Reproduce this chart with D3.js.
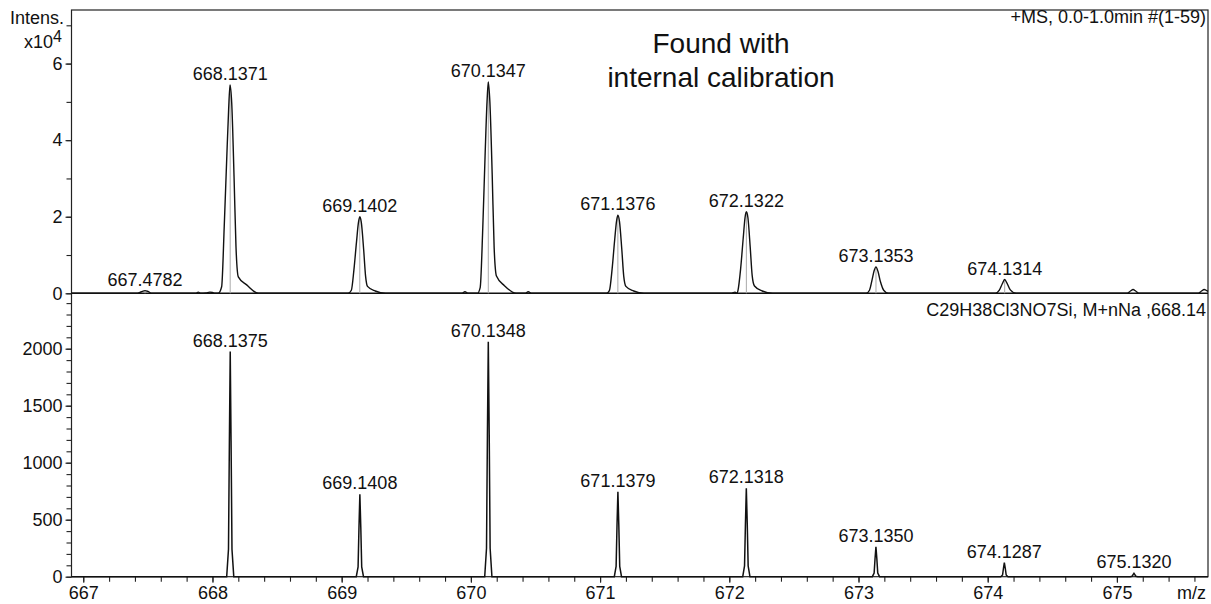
<!DOCTYPE html>
<html>
<head>
<meta charset="utf-8">
<script src="https://cdn.jsdelivr.net/npm/d3@7"></script>
<style>
  body { margin: 0; background: #fff; }
  text { font-family: "Liberation Sans", Arial, sans-serif; fill: #111; }
</style>
</head>
<body>
<div id="chart"></div>
<script>
// measured spectrum (top), intensity in x10^4
var measMz = [666.909, 667.42, 667.45, 667.478, 667.50, 667.53,
    667.87, 667.89, 667.91, 667.95, 667.98, 668.00, 668.02,
    668.045, 668.071, 668.091, 668.110, 668.125, 668.136, 668.149, 668.167, 668.182, 668.200, 668.265, 668.355,
    669.050, 669.075, 669.095, 669.115, 669.130, 669.141, 669.152, 669.170, 669.185, 669.200, 669.260, 669.340,
    669.93, 669.954, 669.98,
    670.050, 670.072, 670.092, 670.110, 670.125, 670.135, 670.147, 670.165, 670.180, 670.198, 670.260, 670.350,
    670.42, 670.444, 670.47,
    671.050, 671.072, 671.093, 671.113, 671.128, 671.138, 671.150, 671.168, 671.183, 671.200, 671.260, 671.340,
    672.02, 672.044, 672.06,
    672.067, 672.088, 672.108, 672.122, 672.132, 672.144, 672.162, 672.177, 672.195, 672.255, 672.335,
    673.060, 673.085, 673.105, 673.122, 673.135, 673.150, 673.170, 673.195, 673.230,
    674.060, 674.090, 674.113, 674.131, 674.150, 674.175, 674.220,
    675.08, 675.105, 675.125, 675.145, 675.17,
    675.63, 675.655, 675.675, 675.695, 675.705];
var measInt = [0, 0, 0.04, 0.07, 0.05, 0,
    0, 0.03, 0, 0.01, 0.03, 0.02, 0,
    0, 0.17, 1.74, 3.48, 4.79, 5.44, 4.97, 3.05, 1.22, 0.43, 0.22, 0,
    0, 0.08, 0.62, 1.35, 1.85, 2.00, 1.85, 1.15, 0.45, 0.18, 0.06, 0,
    0, 0.04, 0,
    0, 0.15, 1.70, 3.60, 5.00, 5.52, 5.00, 3.10, 1.20, 0.45, 0.20, 0,
    0, 0.04, 0,
    0, 0.07, 0.63, 1.40, 1.90, 2.04, 1.88, 1.15, 0.45, 0.18, 0.06, 0,
    0, 0.03, 0,
    0.07, 0.65, 1.45, 1.98, 2.13, 1.98, 1.20, 0.47, 0.19, 0.06, 0,
    0, 0.08, 0.35, 0.60, 0.69, 0.58, 0.30, 0.08, 0,
    0, 0.08, 0.25, 0.36, 0.26, 0.09, 0,
    0, 0.06, 0.10, 0.06, 0,
    0, 0.06, 0.10, 0.07, 0.05];

// labelled peaks (top)
var measPeakMz = [667.4782, 668.1371, 669.1402, 670.1347, 671.1376, 672.1322, 673.1353, 674.1314];
var measPeakInt = [0.07, 5.44, 2.00, 5.52, 2.04, 2.13, 0.69, 0.36];
var measPeakLabels = ['667.4782', '668.1371', '669.1402', '670.1347', '671.1376', '672.1322', '673.1353', '674.1314'];

// simulated isotope pattern (bottom)
var calcMz = [666.909,
    668.110, 668.124, 668.131, 668.1375, 668.144, 668.151, 668.165,
    669.113, 669.127, 669.134, 669.1408, 669.148, 669.155, 669.169,
    670.107, 670.121, 670.128, 670.1348, 670.142, 670.149, 670.163,
    671.110, 671.124, 671.131, 671.1379, 671.145, 671.152, 671.166,
    672.104, 672.118, 672.125, 672.1318, 672.139, 672.146, 672.160,
    673.107, 673.121, 673.128, 673.1350, 673.142, 673.149, 673.163,
    674.101, 674.115, 674.122, 674.1287, 674.136, 674.143, 674.157,
    675.104, 675.118, 675.125, 675.1320, 675.139, 675.146, 675.160,
    675.705];
var calcInt = [0,
    0, 240, 1190, 1975, 1190, 240, 0,
    0, 85, 435, 723, 435, 85, 0,
    0, 250, 1240, 2060, 1240, 250, 0,
    0, 90, 450, 746, 450, 90, 0,
    0, 95, 465, 775, 465, 95, 0,
    0, 32, 158, 263, 158, 32, 0,
    0, 15, 74, 123, 74, 15, 0,
    0, 4, 18, 30, 18, 4, 0,
    0];
var calcPeakMz = [668.1375, 669.1408, 670.1348, 671.1379, 672.1318, 673.1350, 674.1287, 675.1320];
var calcPeakInt = [1975, 723, 2060, 746, 775, 263, 123, 30];
var calcPeakLabels = ['668.1375', '669.1408', '670.1348', '671.1379', '672.1318', '673.1350', '674.1287', '675.1320'];

var xTickValues = [667, 668, 669, 670, 671, 672, 673, 674, 675];
var topTickValues = [0, 2, 4, 6];
var botTickValues = [0, 500, 1000, 1500, 2000];

var width = 1211, height = 604;
var pad = {left: 71.5, right: 1208, top: 10, mid: 293.3, bottom: 576.7};

var svg = d3.select('#chart').append('svg')
    .attr('width', width)
    .attr('height', height);

var x = d3.scaleLinear().domain([666.909, 675.705]).range([pad.left, pad.right]);
var yTop = d3.scaleLinear().domain([0, 7.4]).range([pad.mid, pad.top]);
var yBot = d3.scaleLinear().domain([0, 2486]).range([pad.bottom, pad.mid]);

// minor ticks
svg.append('g')
    .attr('transform', 'translate(0,' + pad.bottom + ')')
    .call(d3.axisBottom(x).tickValues(x.ticks(40)).tickSize(5).tickFormat(''))
    .call(function (g) { g.select('.domain').remove(); });
svg.append('g')
    .attr('transform', 'translate(' + pad.left + ',0)')
    .call(d3.axisLeft(yTop).tickValues(yTop.ticks(8)).tickSize(5).tickFormat(''))
    .call(function (g) { g.select('.domain').remove(); });
svg.append('g')
    .attr('transform', 'translate(' + pad.left + ',0)')
    .call(d3.axisLeft(yBot).tickValues(yBot.ticks(25)).tickSize(5).tickFormat(''))
    .call(function (g) { g.select('.domain').remove(); });

// major ticks with labels
var xAxis = svg.append('g')
    .attr('transform', 'translate(0,' + pad.bottom + ')')
    .call(d3.axisBottom(x).tickValues(xTickValues).tickSize(6).tickPadding(3.5).tickFormat(d3.format('d')));
var yAxisTop = svg.append('g')
    .attr('transform', 'translate(' + pad.left + ',0)')
    .call(d3.axisLeft(yTop).tickValues(topTickValues).tickSize(6).tickPadding(3).tickFormat(d3.format('d')));
var yAxisBot = svg.append('g')
    .attr('transform', 'translate(' + pad.left + ',0)')
    .call(d3.axisLeft(yBot).tickValues(botTickValues).tickSize(6).tickPadding(3).tickFormat(d3.format('d')));

[xAxis, yAxisTop, yAxisBot].forEach(function (g) {
    g.select('.domain').remove();
    g.selectAll('text').attr('font-size', 18).attr('font-family', '"Liberation Sans", Arial, sans-serif').attr('fill', '#111');
});
svg.selectAll('.tick line').attr('stroke', '#222').attr('stroke-width', 1.1);

// frame + divider
svg.append('rect')
    .attr('x', pad.left).attr('y', pad.top)
    .attr('width', pad.right - pad.left).attr('height', pad.bottom - pad.top)
    .attr('fill', 'none')
    .attr('stroke', '#222')
    .attr('stroke-width', 1.2);
svg.append('line')
    .attr('x1', pad.left).attr('x2', pad.right)
    .attr('y1', yTop(0)).attr('y2', yTop(0))
    .attr('stroke', '#111')
    .attr('stroke-width', 1.4);

// centroid sticks (grey)
svg.append('g')
    .selectAll('line')
    .data(measPeakMz)
    .enter()
    .append('line')
    .attr('x1', function (d) { return x(d); })
    .attr('x2', function (d) { return x(d); })
    .attr('y1', yTop(0))
    .attr('y2', function (d, i) { return yTop(measPeakInt[i]); })
    .attr('stroke', '#aaa')
    .attr('stroke-width', 1);

// spectra
var measData = measMz.map(function (d, i) { return [d, measInt[i]]; });
var calcData = calcMz.map(function (d, i) { return [d, calcInt[i]]; });

var lineTop = d3.line()
    .x(function (d) { return x(d[0]); })
    .y(function (d) { return yTop(d[1]); })
    .curve(d3.curveMonotoneX);
var lineBot = d3.line()
    .x(function (d) { return x(d[0]); })
    .y(function (d) { return yBot(d[1]); });

svg.append('path')
    .attr('d', lineTop(measData))
    .attr('fill', 'none')
    .attr('stroke', '#111')
    .attr('stroke-width', 1.4);
svg.append('path')
    .attr('d', lineBot(calcData))
    .attr('fill', 'none')
    .attr('stroke', '#111')
    .attr('stroke-width', 1.5);

// peak labels
svg.append('g')
    .selectAll('text')
    .data(measPeakLabels)
    .enter()
    .append('text')
    .attr('x', function (d, i) { return x(measPeakMz[i]); })
    .attr('y', function (d, i) { return yTop(measPeakInt[i]) - 5; })
    .attr('text-anchor', 'middle')
    .attr('font-size', 18)
    .text(function (d) { return d; });
svg.append('g')
    .selectAll('text')
    .data(calcPeakLabels)
    .enter()
    .append('text')
    .attr('x', function (d, i) { return x(calcPeakMz[i]); })
    .attr('y', function (d, i) { return yBot(calcPeakInt[i]) - 5; })
    .attr('text-anchor', 'middle')
    .attr('font-size', 18)
    .text(function (d) { return d; });

// annotations
svg.append('text')
    .attr('x', 64).attr('y', 24)
    .attr('text-anchor', 'end')
    .attr('font-size', 18)
    .text('Intens.');
var pow = svg.append('text')
    .attr('x', 62).attr('y', 48)
    .attr('text-anchor', 'end')
    .attr('font-size', 18);
pow.append('tspan').text('x10');
pow.append('tspan').attr('dy', -6).attr('font-size', 16).text('4');

svg.append('text')
    .attr('x', pad.right - 2).attr('y', 23)
    .attr('text-anchor', 'end')
    .attr('font-size', 18)
    .text('+MS, 0.0-1.0min #(1-59)');
svg.append('text')
    .attr('x', pad.right - 2).attr('y', 316)
    .attr('text-anchor', 'end')
    .attr('font-size', 18)
    .text('C29H38Cl3NO7Si, M+nNa ,668.14');
svg.append('text')
    .attr('x', pad.right - 2).attr('y', 599)
    .attr('text-anchor', 'end')
    .attr('font-size', 18)
    .text('m/z');

svg.append('text')
    .attr('x', 721).attr('y', 53)
    .attr('text-anchor', 'middle')
    .attr('font-size', 28)
    .text('Found with');
svg.append('text')
    .attr('x', 721).attr('y', 87)
    .attr('text-anchor', 'middle')
    .attr('font-size', 28)
    .text('internal calibration');
</script>
</body>
</html>
